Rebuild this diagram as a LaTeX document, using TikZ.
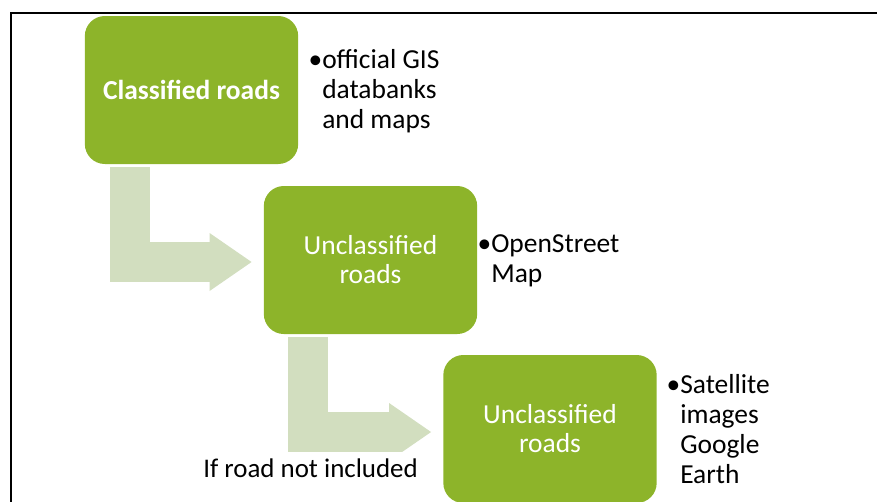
\documentclass[tikz,border=0pt]{standalone}
\usepackage{fontspec}
\setmainfont{Carlito}
\usetikzlibrary{arrows.meta,calc}

\definecolor{boxgreen}{RGB}{141,180,42}
\definecolor{arrowgreen}{RGB}{210,222,191}

\begin{document}
\begin{tikzpicture}[x=0.75pt, y=-0.75pt,
    roadbox/.style={fill=boxgreen, rounded corners=15pt, minimum width=160pt,
      minimum height=111pt, inner sep=0pt, text=white, align=center,
      font=\fontsize{20.6}{21.75}\selectfont},
    source/.style={anchor=base west, inner sep=0pt, align=left,
      font=\fontsize{20.6}{22.5}\selectfont},
    bendarrow/.style={draw=arrowgreen, line width=30pt, line join=miter,
      -{Triangle[width=43.5pt, length=31.5pt, line width=0pt]}}]

    \useasboundingbox (0,0) rectangle (877,501);
    \clip (0,0) rectangle (877,501);

    % frame
    \draw[line width=1.5pt] (10.5,510) -- (10.5,12.5) -- (890,12.5);

    % the three road sources
    \node[roadbox, font=\fontsize{20.6}{21.75}\selectfont\bfseries] (classified) at (191.5,90) {Classified roads};
    \node[roadbox] (unclassA) at (370.5,260) {Unclassified\\roads};
    \node[roadbox] (unclassB) at (550,429) {Unclassified\\roads};

    % base anchor sits on the last line
    \node[source] (gis) at (322,128) {\llap{\textbullet}official GIS\\databanks\\and maps};
    \node[source] (osm) at (491,282) {\llap{\textbullet}OpenStreet\\Map};
    \node[source] (sat) at (680,483) {\llap{\textbullet}Satellite\\images\\Google\\Earth};

    % bent arrows
    \draw[bendarrow] ($(classified.south west)+(45,3)$) |- ($(unclassA.west)+(-12,2)$);
    \begin{scope}
        \clip (0,0) rectangle (877,451);
        \draw[bendarrow] ($(unclassA.south west)+(44.5,3)$) |- ($(unclassB.west)+(-12,3)$);
    \end{scope}

    \node[source, font=\fontsize{20.2}{22.5}\selectfont] (fallback) at (203,477) {If road not included};

\end{tikzpicture}
\end{document}
